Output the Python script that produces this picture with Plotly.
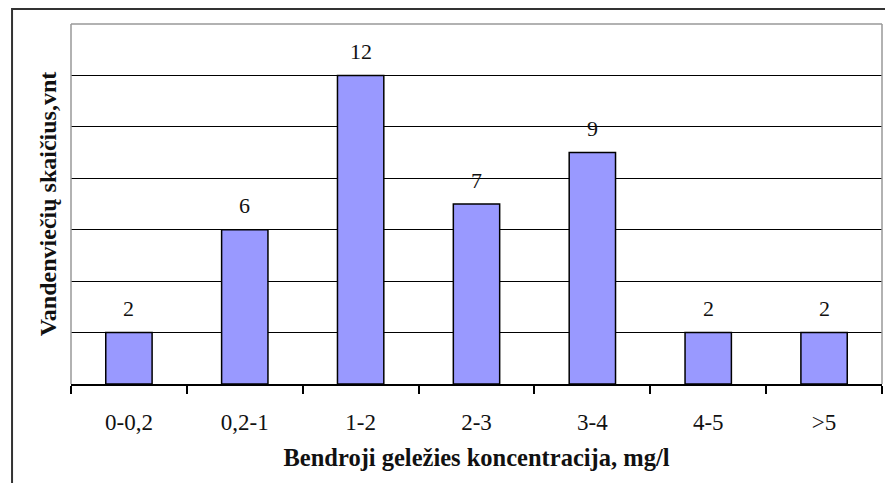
import plotly.graph_objects as go

categories = ["0-0,2", "0,2-1", "1-2", "2-3", "3-4", "4-5", ">5"]
counts = [2, 6, 12, 7, 9, 2, 2]
y_ticks = [0, 2, 4, 6, 8, 10, 12, 14]

x_title = "Bendroji geležies koncentracija, mg/l"
y_title = "Vandenviečių skaičius,vnt"

FONT = "Liberation Serif, Times New Roman, serif"

fig = go.Figure()
fig.add_trace(go.Bar(
    x=categories, y=counts, width=0.4,
    marker=dict(color="#9999FF", line=dict(color="#000000", width=1.5)),
    showlegend=False, hoverinfo="x+y",
))

for c, v in zip(categories, counts):
    fig.add_annotation(x=c, y=v, text=str(v), showarrow=False, yshift=24,
                       font=dict(family=FONT, size=22, color="#111111"))

fig.update_layout(
    width=877, height=475,
    margin=dict(l=63, r=3, t=16, b=99, autoexpand=False),
    paper_bgcolor="white", plot_bgcolor="white",
    font=dict(family=FONT, color="#111111"),
    xaxis=dict(
        type="category", tickson="boundaries", ticks="outside", ticklen=8,
        tickwidth=1.5, tickcolor="#000000", showgrid=False,
        showline=True, linecolor="#000000", linewidth=1.5,
        tickfont=dict(family=FONT, size=23, color="#111111"),
        ticklabelstandoff=17, automargin=False,
        title=dict(text="<b>" + x_title + "</b>", standoff=15,
                   font=dict(family=FONT, size=24.5, color="#111111")),
    ),
    yaxis=dict(
        range=[0, 14], tickvals=y_ticks, showticklabels=False, ticks="",
        showgrid=True, gridcolor="#000000", gridwidth=1.2,
        zeroline=False, showline=False, automargin=False,
        title=dict(text="<b>" + y_title + "</b>", standoff=6,
                   font=dict(family=FONT, size=24, color="#111111")),
    ),
    shapes=[
        dict(type="line", xref="paper", yref="paper", x0=0, x1=0, y0=0, y1=1,
             line=dict(color="#999999", width=1.5), layer="above"),
        dict(type="line", xref="paper", yref="paper", x0=0, x1=1, y0=1, y1=1,
             line=dict(color="#999999", width=1.5), layer="above"),
        dict(type="line", xref="paper", yref="paper", x0=1, x1=1, y0=0, y1=1,
             line=dict(color="#999999", width=1.5), layer="above"),
        dict(type="rect", xref="paper", yref="paper",
             x0=-0.0727, x1=1.03, y0=-0.33, y1=1.0417,
             line=dict(color="#333333", width=2), layer="above"),
    ],
)

fig.write_html("out.html")
